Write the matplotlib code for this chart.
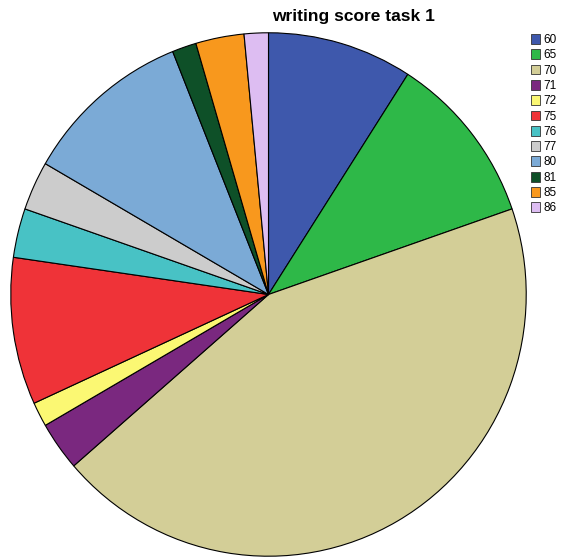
import matplotlib
matplotlib.use("Agg")
import matplotlib.pyplot as plt
from matplotlib.patches import Patch

labels = ["60", "65", "70", "71", "72", "75", "76", "77", "80", "81", "85", "86"]
counts = [6, 7, 29, 2, 1, 6, 2, 2, 7, 1, 2, 1]
colors = ["#3E58AC", "#2EB848", "#D3CE97", "#7A287F", "#FBF873", "#EF3338",
          "#48C2C5", "#CCCCCC", "#7BAAD6", "#0E5028", "#F8981D", "#DDBDF2"]

W, H = 565, 558
fig = plt.figure(figsize=(W / 100, H / 100), dpi=100)
ax = fig.add_axes([10 / W, 1 / H, 517 / W, 525 / H])
ax.pie(counts, colors=colors, startangle=90, counterclock=False, radius=1,
       wedgeprops=dict(edgecolor="black", linewidth=0.8))
ax.set_aspect("auto")
ax.set_xlim(-1.003, 1.003)
ax.set_ylim(-1.003, 1.003)
ax.axis("off")

fig.text(353 / W, 1 - 17 / H, "writing score task 1", ha="center", va="center",
         fontsize=12.5, fontweight="bold", family="Liberation Sans")

handles = [Patch(facecolor=c, edgecolor="#333333", linewidth=0.6) for c in colors]
leg = fig.legend(handles, labels, loc="upper left", bbox_to_anchor=(531 / W, 1 - 34 / H),
                 frameon=False, handlelength=0.8, handleheight=0.9,
                 handletextpad=0.25, labelspacing=0.28, borderpad=0, borderaxespad=0,
                 prop=dict(family="Liberation Sans", size=8.5))
fig.savefig("out.png", dpi=100)
